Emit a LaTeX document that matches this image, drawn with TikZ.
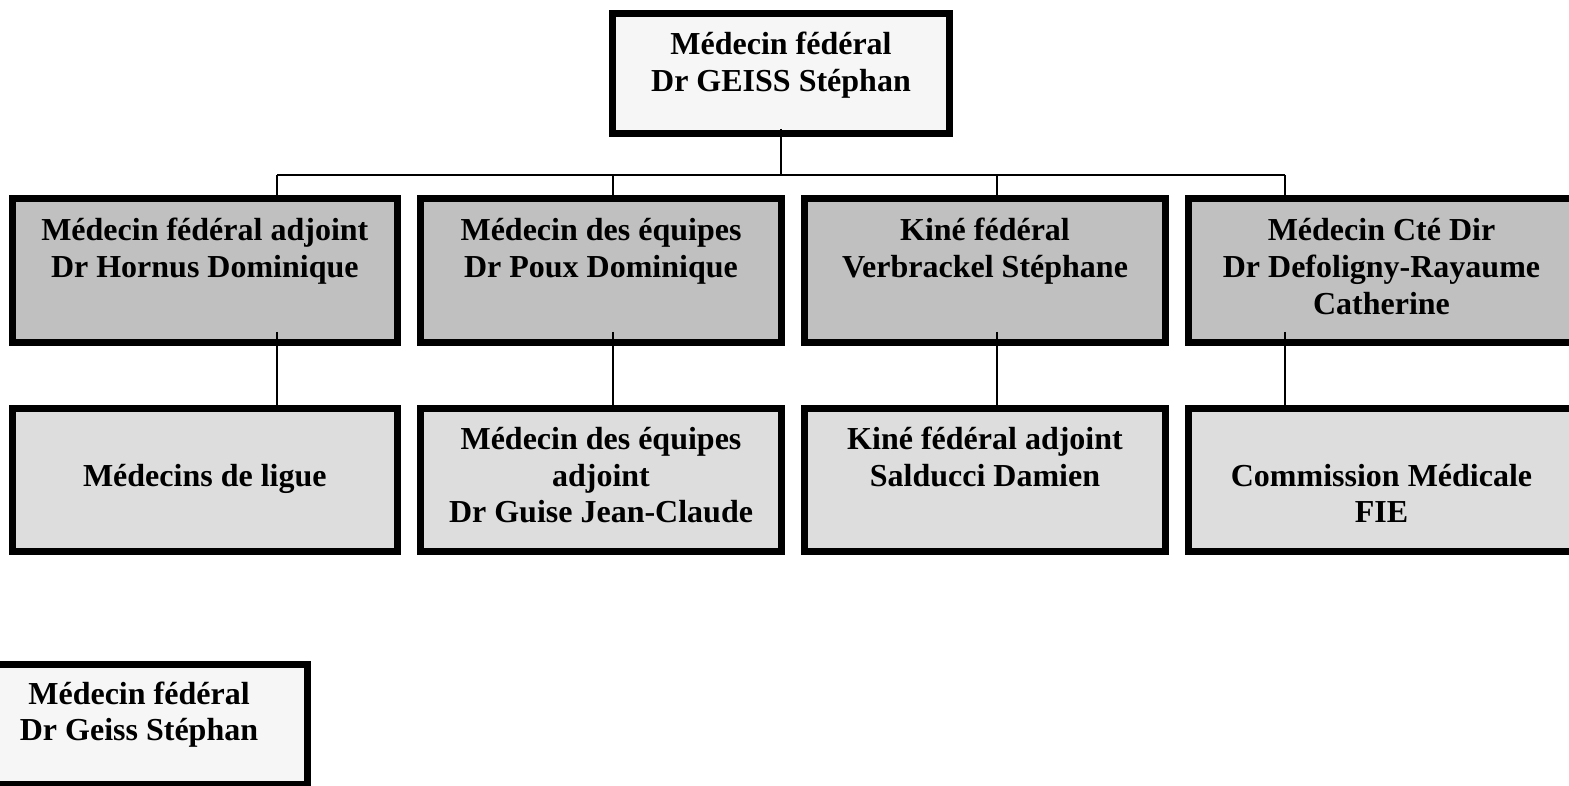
\documentclass[tikz,border=0pt]{standalone}
\usepackage{fontspec}
\setmainfont{Liberation Serif}
\usetikzlibrary{calc}
\definecolor{toplight}{HTML}{F6F6F6}
\definecolor{midgray}{HTML}{C0C0C0}
\definecolor{lowgray}{HTML}{DDDDDD}
\newcommand{\lns}[1]{\begin{tabular}[t]{@{}c@{}}#1\end{tabular}}
\begin{document}
\begin{tikzpicture}[x=1pt,y=-1pt,
  box/.style={draw=black, line width=7pt, inner xsep=0pt, inner ysep=0pt, anchor=base,
    font=\bfseries\fontsize{32}{36.7}\selectfont},
  topbox/.style={box, fill=toplight, minimum width=337pt, text height=41.5pt, text depth=78.5pt},
  midbox/.style={box, fill=midgray, text height=42.5pt, text depth=101.5pt},
  lowbox/.style={box, fill=lowgray, text height=41pt, text depth=102pt},
  conn/.style={draw=black, line width=2pt}]
\useasboundingbox (0,0) rectangle (1569,786);

% top
\node[topbox] (top) at (781,55) {\lns{Médecin fédéral\\Dr GEISS Stéphan}};

% middle row
\node[midbox, minimum width=384.7pt] (m1) at (204.8,241) {\lns{Médecin fédéral adjoint\\Dr Hornus Dominique}};
\node[midbox, minimum width=361pt] (m2) at (601,241) {\lns{Médecin des équipes\\Dr Poux Dominique}};
\node[midbox, minimum width=361pt] (m3) at (985,241) {\lns{Kiné fédéral\\Verbrackel Stéphane}};
\node[midbox, minimum width=386pt] (m4) at (1381.5,241) {\lns{Médecin Cté Dir\\Dr Defoligny-Rayaume\\Catherine}};

% bottom row
\node[lowbox, minimum width=384.7pt] (b1) at (204.8,449.5) {\lns{\mbox{}\\Médecins de ligue}};
\node[lowbox, minimum width=361pt] (b2) at (601,449.5) {\lns{Médecin des équipes\\adjoint\\Dr Guise Jean-Claude}};
\node[lowbox, minimum width=361pt] (b3) at (985,449.5) {\lns{Kiné fédéral adjoint\\Salducci Damien}};
\node[lowbox, minimum width=386pt] (b4) at (1381.5,449.5) {\lns{\mbox{}\\Commission Médicale\\FIE}};

% bottom-left
\node[topbox, text height=39.5pt, text depth=80.5pt] (bl) at (139,704) {\lns{Médecin fédéral\\Dr Geiss Stéphan}};

% connectors
\coordinate (hb) at (781,175);
\coordinate (j1) at (277,175);
\coordinate (j2) at (613,175);
\coordinate (j3) at (997,175);
\coordinate (j4) at (1285,175);
\draw[conn] ($(top.south)+(0,-8)$) -- (hb);
\draw[conn] (j1) -- (j4);
\foreach \i in {1,2,3,4}{
  \draw[conn] (j\i) -- (j\i |- m\i.north);
  \draw[conn] ($(j\i |- m\i.south)+(0,-14)$) -- (j\i |- b\i.north);
}
\end{tikzpicture}
\end{document}
